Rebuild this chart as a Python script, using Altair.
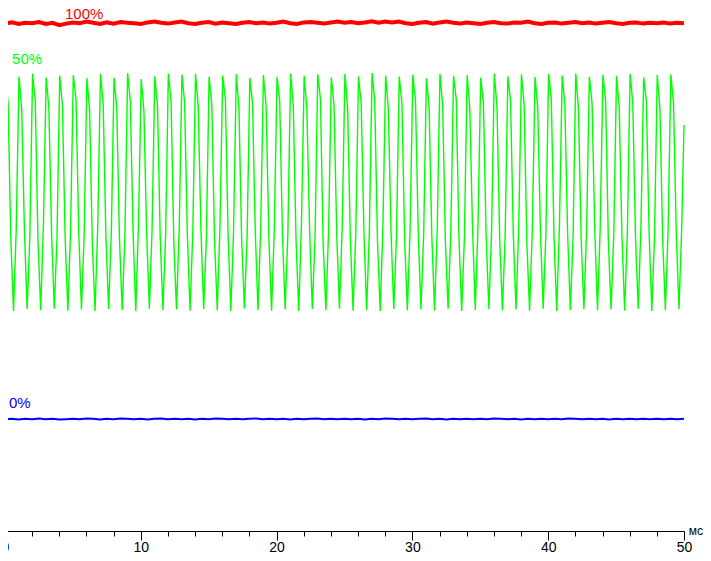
import altair as alt
import pandas as pd

# ---- data (brightness, % of full) ----
red_vals = [99.6, 99.9, 99.5, 99.8, 99.7, 100.0, 99.5, 99.8, 99.2, 99.6,
            99.9, 99.7, 100.1, 99.8, 99.5, 99.9, 99.6, 100.0, 99.8, 99.7,
            99.5, 99.9, 100.1, 99.8, 99.6, 99.9, 100.1, 99.7, 99.5, 99.8,
            100.0, 99.6, 99.9, 99.7, 99.5, 99.8, 100.0, 99.7, 99.9, 99.6,
            99.8, 100.1, 99.7, 99.5, 99.9, 100.0, 99.8, 99.6, 99.9, 100.1,
            99.8, 100.0, 99.7, 99.9, 100.2, 99.8, 100.1, 99.9, 100.1, 99.7,
            99.5, 99.8, 100.0, 99.6, 99.9, 100.1, 99.8, 99.6, 99.9, 99.7,
            99.5, 99.8, 100.0, 99.7, 99.6, 99.9, 99.8, 100.1, 99.7, 99.5,
            99.8, 99.9, 99.6, 99.8, 100.0, 99.7, 99.9, 99.6, 99.8, 100.0,
            99.7, 99.5, 99.8, 99.9, 99.6, 99.8, 99.7, 99.9, 99.6, 99.8, 99.7]

blue_vals = [-0.3, -0.2, -0.4, -0.2, -0.3, -0.1, -0.3, -0.2, -0.4, -0.3,
             -0.2, -0.3, -0.1, -0.2, -0.4, -0.2, -0.3, -0.1, -0.2, -0.3,
             -0.2, -0.4, -0.2, -0.1, -0.3, -0.2, -0.3, -0.2, -0.4, -0.2,
             -0.3, -0.1, -0.2, -0.3, -0.2, -0.3, -0.2, -0.1, -0.3, -0.2,
             -0.3, -0.2, -0.4, -0.2, -0.3, -0.2, -0.1, -0.3, -0.2, -0.3,
             -0.2, -0.3, -0.2, -0.4, -0.2, -0.3, -0.1, -0.2, -0.3, -0.2,
             -0.3, -0.2, -0.1, -0.3, -0.2, -0.4, -0.2, -0.3, -0.2, -0.3,
             -0.2, -0.3, -0.1, -0.2, -0.3, -0.2, -0.4, -0.2, -0.3, -0.2,
             -0.3, -0.2, -0.3, -0.1, -0.2, -0.3, -0.2, -0.3, -0.2, -0.4,
             -0.2, -0.3, -0.2, -0.3, -0.2, -0.3, -0.2, -0.3, -0.2, -0.3, -0.2]

# green (50%): per 1 ms cycle -> peak, falling, falling, trough, rising
green_start = 78.0
green_cycles = [
    [86.8, 79.5, 45.0, 27.0, 48.0], [86.2, 78.0, 47.5, 27.5, 46.0],
    [87.0, 80.0, 44.5, 27.2, 49.0], [86.0, 78.5, 46.5, 27.6, 45.5],
    [86.4, 79.0, 45.5, 27.1, 47.5], [86.6, 80.5, 47.0, 27.4, 46.5],
    [85.8, 78.0, 44.0, 27.0, 48.5], [86.9, 79.5, 46.0, 27.5, 47.0],
    [85.9, 78.5, 45.0, 27.3, 46.0], [87.1, 80.0, 47.0, 27.0, 49.0],
    [85.6, 77.5, 46.5, 27.6, 47.5], [86.3, 79.0, 45.5, 27.2, 46.5],
    [87.0, 80.0, 44.5, 27.4, 48.0], [86.7, 79.5, 46.0, 27.1, 47.0],
    [86.9, 78.5, 47.5, 27.5, 45.5], [86.2, 79.0, 45.0, 27.2, 48.5],
    [86.5, 80.5, 46.0, 27.0, 47.0], [86.8, 78.0, 44.5, 27.6, 46.0],
    [85.9, 79.5, 47.0, 27.3, 48.0], [86.6, 78.5, 45.5, 27.1, 47.5],
    [86.1, 80.0, 46.5, 27.4, 46.5], [87.0, 79.0, 45.0, 27.0, 49.0],
    [86.4, 78.0, 47.5, 27.5, 45.5], [86.8, 80.5, 44.0, 27.2, 47.5],
    [86.0, 79.0, 46.0, 27.6, 48.0], [86.9, 78.5, 45.5, 27.1, 46.5],
    [86.3, 79.5, 47.0, 27.3, 47.0], [87.1, 80.0, 44.5, 27.0, 48.5],
    [86.5, 78.0, 46.5, 27.5, 46.0], [86.2, 79.5, 45.0, 27.2, 47.5],
    [86.7, 80.0, 47.0, 27.4, 46.5], [85.8, 78.5, 46.0, 27.1, 48.0],
    [86.9, 79.0, 44.5, 27.6, 47.0], [86.4, 80.5, 45.5, 27.0, 45.5],
    [86.6, 78.0, 47.5, 27.3, 48.5], [86.0, 79.5, 46.0, 27.5, 47.0],
    [87.0, 78.5, 45.0, 27.2, 46.0], [86.3, 80.0, 46.5, 27.4, 48.0],
    [86.8, 79.0, 44.0, 27.1, 47.5], [86.1, 78.5, 47.0, 27.6, 46.5],
    [86.9, 80.5, 45.5, 27.0, 49.0], [86.5, 79.0, 46.5, 27.3, 45.5],
    [87.0, 78.0, 45.0, 27.5, 47.5], [86.2, 79.5, 47.5, 27.2, 48.0],
    [86.7, 80.0, 44.5, 27.4, 46.5], [86.4, 78.5, 46.0, 27.1, 47.0],
    [86.9, 79.5, 45.5, 27.6, 48.5], [86.0, 80.0, 47.0, 27.0, 46.0],
    [86.6, 78.0, 45.0, 27.3, 47.5], [86.8, 79.5, 46.5, 27.5, 48.0],
]
green_end = 74.0
green_phase = [0.03, 0.23, 0.43, 0.63, 0.83]

labels = ["100%", "50%", "0%", "мс"]
label_x = [4.42, 0.52, 0.29, 50.35]
label_y = [100.7, 89.4, 2.5, -29.5]
label_sizes = [15, 15, 15, 12]
label_colors = ["#ff0000", "#00ff00", "#0000ff", "#000000"]

x_ticks = list(range(0, 51, 2))

# ---- tables ----
red_df = pd.DataFrame({"t": [i * 50 / (len(red_vals) - 1) for i in range(len(red_vals))],
                       "v": red_vals})
blue_df = pd.DataFrame({"t": [i * 50 / (len(blue_vals) - 1) for i in range(len(blue_vals))],
                        "v": blue_vals})
g_t = [0.0]
g_v = [green_start]
for k, cyc in enumerate(green_cycles):
    for ph, val in zip(green_phase, cyc):
        g_t.append(k + ph)
        g_v.append(val)
g_t.append(50.0)
g_v.append(green_end)
green_df = pd.DataFrame({"t": g_t, "v": g_v})
label_df = pd.DataFrame({"label": labels, "t": label_x, "v": label_y,
                         "c": label_colors, "s": label_sizes})

xscale = alt.Scale(domain=[0, 50], nice=False, zero=False)
yscale = alt.Scale(domain=[-28.54, 103.54], nice=False, zero=False)

xaxis = alt.Axis(
    values=x_ticks,
    labelExpr="datum.value % 10 === 0 ? datum.label : ''",
    tickSize={"condition": {"test": "datum.value % 10 === 0", "value": 9}, "value": 5},
    tickColor="black", domainColor="black", tickWidth=1, domainWidth=1,
    labelColor="black", labelFont="Liberation Sans", labelFontSize=14,
    labelPadding=0, grid=False, title=None, labelFlush=False, labelOverlap=False,
    labelBound=False,
)

y_enc = alt.Y("v:Q", scale=yscale, axis=None)
x_enc = alt.X("t:Q", scale=xscale, axis=xaxis)

green = alt.Chart(green_df).mark_line(color="#00ff00", strokeWidth=1.4).encode(
    x=x_enc, y=y_enc)
red = alt.Chart(red_df).mark_line(color="#ff0000", strokeWidth=4).encode(
    x=x_enc, y=y_enc)
blue = alt.Chart(blue_df).mark_line(color="#0000ff", strokeWidth=2).encode(
    x=x_enc, y=y_enc)
texts = alt.Chart(label_df).mark_text(
    align="left", baseline="alphabetic", font="Liberation Sans", clip=False
).encode(
    x=x_enc, y=y_enc, text="label:N",
    color=alt.Color("c:N", scale=None),
    size=alt.Size("s:Q", scale=None),
)

chart = alt.layer(green, red, blue, texts).properties(
    width=679, height=523,
    padding={"left": -3, "top": 0, "right": 19, "bottom": 22},
    autosize=alt.AutoSizeParams(type="none"),
    background="white",
).configure_view(stroke=None)

chart.save("out.html", embed_options={"renderer": "svg", "actions": False})
